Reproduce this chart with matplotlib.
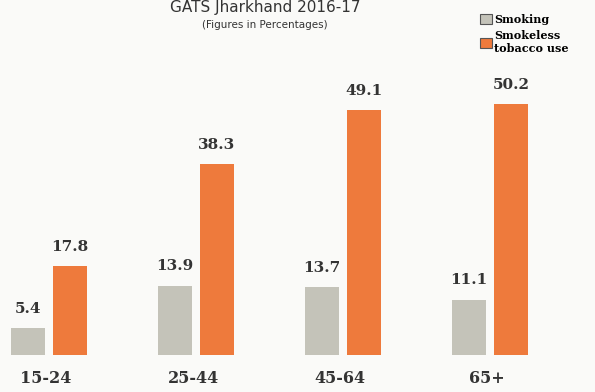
import matplotlib.pyplot as plt
import numpy as np

# GATS Jharkhand 2016-17, tobacco use by age group (%)
age_groups = ["15-24", "25-44", "45-64", "65+"]
smoking = [5.4, 13.9, 13.7, 11.1]
smokeless = [17.8, 38.3, 49.1, 50.2]

grey = "#c4c3b9"
orange = "#ee7a3c"
serif = "DejaVu Serif"

fig = plt.figure(figsize=(5.95, 3.92), dpi=100)
fig.patch.set_facecolor("#fafaf8")
ax = fig.add_axes([0, 0, 1, 1])
ax.set_facecolor("#fafaf8")

x = np.arange(len(age_groups))
w = 0.23
off = 0.143

b1 = ax.bar(x - off, smoking, w, color=grey, label="Smoking")
b2 = ax.bar(x + off, smokeless, w, color=orange, label="Smokeless\ntobacco use")

for bars, vals in ((b1, smoking), (b2, smokeless)):
    for r, v in zip(bars, vals):
        ax.text(r.get_x() + r.get_width() / 2, v + 3.8, f"{v:.1f}",
                ha="center", va="center", fontsize=11, fontweight="bold",
                family=serif, color="#333333")

for xi, lab in zip(x, age_groups):
    ax.text(xi - 0.02, -4.7, lab, ha="center", va="center", fontsize=11.5,
            fontweight="bold", family=serif, color="#333333")

ax.set_xlim(-0.333, 3.714)
ax.set_ylim(-7.4, 71)
ax.axis("off")

fig.text(0.445, 0.999, "GATS Jharkhand 2016-17", ha="center", va="top",
         fontsize=11, color="#333333")
fig.text(0.445, 0.936, "(Figures in Percentages)", ha="center", va="center",
         fontsize=7.5, color="#333333")

leg = ax.legend(loc="upper left", bbox_to_anchor=(0.80, 0.975), frameon=False,
                handlelength=1.0, handleheight=1.0, handletextpad=0.2,
                labelspacing=0.45, borderaxespad=0,
                prop={"family": serif, "weight": "bold", "size": 8})
for h in leg.legend_handles:
    h.set_edgecolor("#555555")
    h.set_linewidth(0.8)

fig.savefig("out.png", dpi=100, facecolor=fig.get_facecolor())
